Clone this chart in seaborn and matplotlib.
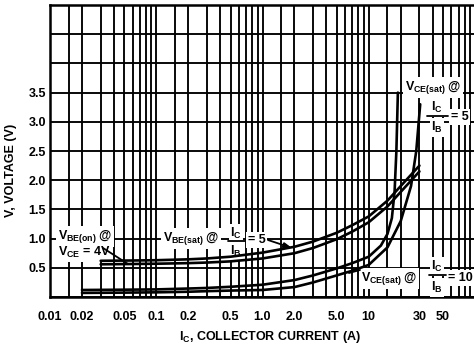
import matplotlib
matplotlib.use("Agg")
import matplotlib.pyplot as plt
from matplotlib.lines import Line2D
from matplotlib.transforms import IdentityTransform
import numpy as np
import pandas as pd
import seaborn as sns

# ---- on-voltage curves: collector current (A) vs voltage (V) ----
ic_vbe_sat = [0.03, 0.06, 0.1, 0.2, 0.3, 0.5, 1.0, 2.0, 3.0, 5.0, 7.0, 10, 15, 20, 30]
v_vbe_sat = [0.62, 0.625, 0.63, 0.645, 0.66, 0.69, 0.76, 0.86, 0.95, 1.10, 1.23, 1.38, 1.65, 1.90, 2.25]

ic_vbe_on = [0.03, 0.06, 0.1, 0.2, 0.3, 0.5, 1.0, 2.0, 3.0, 5.0, 7.0, 10, 15, 20, 30]
v_vbe_on = [0.56, 0.565, 0.57, 0.58, 0.59, 0.61, 0.66, 0.75, 0.84, 0.99, 1.12, 1.28, 1.55, 1.80, 2.15]

ic_vce_sat10 = [0.02, 0.05, 0.1, 0.2, 0.3, 0.5, 1.0, 2.0, 3.0, 5.0, 7.0, 10, 13, 15, 16.5, 17.5, 18.2, 18.8]
v_vce_sat10 = [0.12, 0.125, 0.13, 0.145, 0.155, 0.175, 0.21, 0.29, 0.37, 0.49, 0.58, 0.69, 0.88, 1.08, 1.35, 1.80, 2.50, 3.50]

ic_vce_sat5 = [0.02, 0.05, 0.1, 0.2, 0.3, 0.5, 1.0, 2.0, 3.0, 5.0, 7.0, 10, 15, 20, 25, 28, 30.5]
v_vce_sat5 = [0.07, 0.075, 0.08, 0.09, 0.10, 0.11, 0.12, 0.17, 0.25, 0.37, 0.45, 0.55, 0.85, 1.30, 1.90, 2.50, 3.30]

# ---- axes ticks ----
x_grid_mult = [1, 1.5, 2, 3, 4, 5, 6, 7, 8, 9]
x_decades = [0.01, 0.1, 1, 10]
x_labeled = [0.01, 0.02, 0.05, 0.1, 0.2, 0.5, 1, 2, 5, 10, 30, 50]
x_labels = ["0.01", "0.02", "0.05", "0.1", "0.2", "0.5", "1.0", "2.0", "5.0", "10", "30", "50"]
y_grid = [0.0, 0.5, 1.0, 1.5, 2.0, 2.5, 3.0, 3.5, 4.0, 4.5, 5.0]
y_labeled = [0.5, 1.0, 1.5, 2.0, 2.5, 3.0, 3.5]

frames = []
for name, ic, v in [("vbe_sat", ic_vbe_sat, v_vbe_sat),
                    ("vbe_on", ic_vbe_on, v_vbe_on),
                    ("vce_sat10", ic_vce_sat10, v_vce_sat10),
                    ("vce_sat5", ic_vce_sat5, v_vce_sat5)]:
    frames.append(pd.DataFrame({"Ic": ic, "V": v, "curve": name}))
df = pd.concat(frames, ignore_index=True)

sns.set_style("white")
FONT = "Liberation Sans"
FS = 9
plt.rcParams["font.family"] = [FONT, "DejaVu Sans"]
plt.rcParams["font.weight"] = "bold"
plt.rcParams["mathtext.fontset"] = "custom"
plt.rcParams["mathtext.rm"] = FONT + ":bold"
plt.rcParams["mathtext.it"] = FONT + ":bold"
plt.rcParams["mathtext.bf"] = FONT + ":bold"
plt.rcParams["mathtext.sf"] = FONT + ":bold"
plt.rcParams["mathtext.default"] = "rm"

W, H = 474, 348
fig = plt.figure(figsize=(W / 100, H / 100), dpi=100)
ax = fig.add_axes([50 / W, 1 - 297 / H, 425 / W, 292 / H])

sns.lineplot(data=df, x="Ic", y="V", units="curve", estimator=None, sort=False,
             color="black", lw=1.9, ax=ax, zorder=4, legend=False)

ax.set_xscale("log")
ax.set_xlim(0.01, 100)
ax.set_ylim(0, 5.0)

xgrid = [d * m for d in x_decades for m in x_grid_mult] + [100]
xticklabels = []
for xv in xgrid:
    lab = ""
    for xl, tl in zip(x_labeled, x_labels):
        if abs(np.log10(xv) - np.log10(xl)) < 1e-6:
            lab = tl
    xticklabels.append(lab)
ax.set_xticks(xgrid)
ax.set_xticklabels(xticklabels)
ax.xaxis.set_minor_locator(matplotlib.ticker.NullLocator())
ax.set_yticks(y_grid)
ax.set_yticklabels([f"{y:.1f}" if y in y_labeled else "" for y in y_grid])

ax.grid(True, which="major", color="black", lw=1.35)
ax.set_axisbelow(True)
ax.tick_params(axis="both", length=0, labelsize=FS, colors="black")
ax.tick_params(axis="x", pad=10)
ax.tick_params(axis="y", pad=3)
for lab in ax.get_xticklabels() + ax.get_yticklabels():
    lab.set_fontweight("bold")
for s in ax.spines.values():
    s.set_color("black")
    s.set_linewidth(1.8)
ax.set_xlabel("")
ax.set_ylabel("")


def put(x, y, s, ha="left", va="baseline", size=FS, rot=0, box=True):
    kw = dict(xy=(x, H - y), xycoords="figure pixels", ha=ha, va=va,
              fontsize=size, fontweight="bold", rotation=rot, zorder=3,
              annotation_clip=False, color="black")
    if box:
        kw["bbox"] = dict(fc="white", ec="none", pad=1.2)
    ax.annotate(s, **kw)


def bar(x0, x1, y):
    fig.add_artist(Line2D([x0, x1], [H - y, H - y], color="black", lw=1.3,
                          transform=IdentityTransform()))


def pointer(tail, tip, head=False):
    style = "-|>,head_length=0.45,head_width=0.15" if head else "-"
    ax.annotate("", xy=(tip[0], H - tip[1]), xytext=(tail[0], H - tail[1]),
                xycoords="figure pixels", textcoords="figure pixels",
                arrowprops=dict(arrowstyle=style, color="black", lw=1.3,
                                shrinkA=0, shrinkB=0), zorder=5)


# axis titles
put(11, 170, "V, VOLTAGE (V)", ha="center", va="center", rot=90, box=False)
put(270, 337, r"I$_{C}$, COLLECTOR CURRENT (A)", ha="center", va="center", box=False)

# V_BE(on) label
put(58, 239, r"V$_{BE(on)}$ @")
put(58, 256, r"V$_{CE}$ = 4V")
pointer((103, 248), (128, 264))

# V_BE(sat) label
put(163, 241, r"V$_{BE(sat)}$ @")
put(236, 237, r"I$_{C}$", ha="center")
bar(228, 245, 241)
put(236, 255, r"I$_{B}$", ha="center")
put(248, 243, "= 5")
pointer((268, 240), (292, 248), head=True)

# V_CE(sat) @ Ic/Ib = 5 label
put(405, 90, r"V$_{CE(sat)}$ @")
put(437, 111, r"I$_{C}$", ha="center")
bar(427, 448, 116)
put(437, 131, r"I$_{B}$", ha="center")
put(451, 120, "= 5")

# V_CE(sat) @ Ic/Ib = 10 label
put(361, 281, r"V$_{CE(sat)}$ @")
put(437, 270, r"I$_{C}$", ha="center")
bar(429, 446, 275)
put(437, 291, r"I$_{B}$", ha="center")
put(448, 281, "= 10")
pointer((360, 270), (349, 273))

fig.savefig("out.png", dpi=100)
